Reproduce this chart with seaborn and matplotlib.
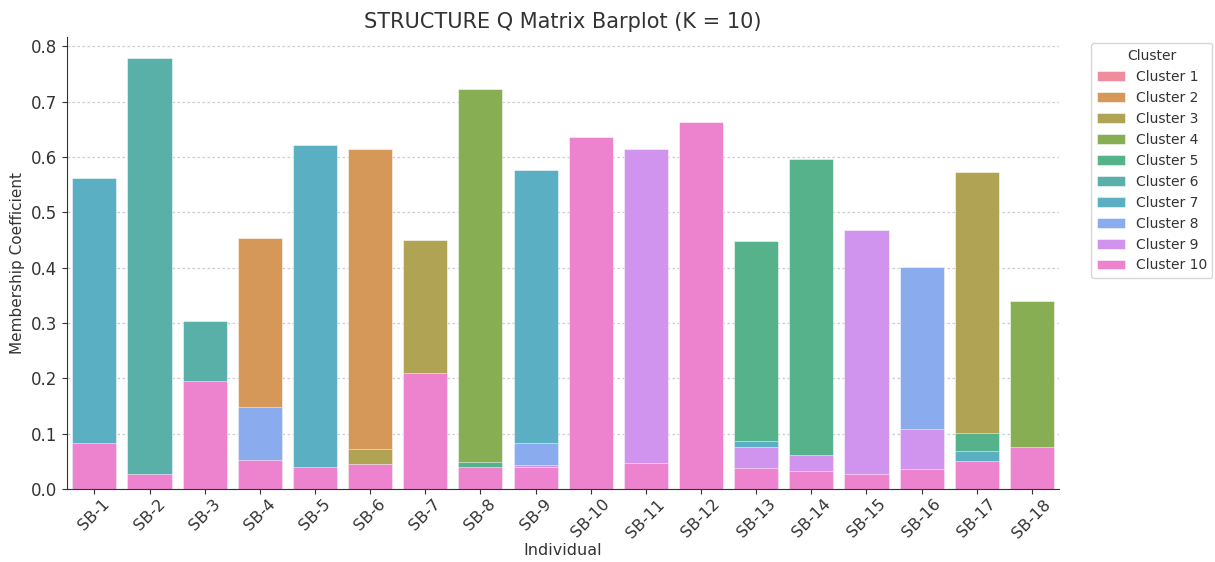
import matplotlib
matplotlib.use("Agg")
import matplotlib.pyplot as plt
import seaborn as sns
import pandas as pd

individuals = [f"SB-{i}" for i in range(1, 19)]
clusters = [f"Cluster {i}" for i in range(1, 11)]

# Membership coefficients per cluster (one value per individual)
cluster_1 = [0, 0, 0, 0, 0, 0, 0, 0, 0, 0, 0, 0, 0, 0, 0, 0, 0, 0]
cluster_2 = [0, 0, 0, 0.454, 0, 0.615, 0, 0, 0, 0, 0, 0, 0, 0, 0, 0, 0, 0]
cluster_3 = [0, 0, 0, 0, 0, 0.073, 0.450, 0, 0, 0, 0, 0, 0, 0, 0, 0, 0.573, 0]
cluster_4 = [0, 0, 0, 0, 0, 0, 0, 0.723, 0, 0, 0, 0, 0, 0, 0, 0, 0, 0.339]
cluster_5 = [0, 0, 0, 0, 0, 0, 0, 0.049, 0, 0, 0, 0, 0.449, 0.597, 0, 0, 0.101, 0]
cluster_6 = [0, 0.779, 0.303, 0, 0, 0, 0, 0, 0, 0, 0, 0, 0, 0, 0, 0, 0, 0]
cluster_7 = [0.562, 0, 0, 0, 0.622, 0, 0, 0, 0.577, 0, 0, 0, 0.086, 0, 0, 0, 0.069, 0]
cluster_8 = [0, 0, 0, 0.148, 0, 0, 0, 0, 0.083, 0, 0, 0, 0, 0, 0, 0.402, 0, 0]
cluster_9 = [0, 0, 0, 0, 0, 0, 0, 0, 0.044, 0, 0.615, 0, 0.076, 0.061, 0.468, 0.108, 0, 0]
cluster_10 = [0.083, 0.027, 0.195, 0.052, 0.039, 0.045, 0.209, 0.040, 0.040, 0.636,
              0.046, 0.663, 0.038, 0.033, 0.027, 0.036, 0.050, 0.075]

q_values = [cluster_1, cluster_2, cluster_3, cluster_4, cluster_5,
            cluster_6, cluster_7, cluster_8, cluster_9, cluster_10]

rows = []
for name, vals in zip(clusters, q_values):
    for ind, v in zip(individuals, vals):
        rows.append({"Individual": ind, "Cluster": name, "Membership Coefficient": v})
df = pd.DataFrame(rows)

# husl palette, slightly desaturated and softened toward white
base = sns.color_palette("husl", 10, desat=0.85)
palette = [tuple(0.87 * c + 0.13 for c in col) for col in base]

text_color = "#333333"
plt.rcParams.update({
    "text.color": text_color,
    "axes.labelcolor": text_color,
    "xtick.color": text_color,
    "ytick.color": text_color,
    "axes.edgecolor": text_color,
})

fig, ax = plt.subplots(figsize=(12.15, 5.62), dpi=100)
sns.barplot(data=df, x="Individual", y="Membership Coefficient", hue="Cluster",
            hue_order=clusters, order=individuals, dodge=False, saturation=1,
            palette=palette, edgecolor=(1, 1, 1, 0.6), linewidth=0.6, ax=ax)

ax.set_title("STRUCTURE Q Matrix Barplot (K = 10)", fontsize=15)
ax.set_xlabel("Individual", fontsize=11.5, labelpad=2)
ax.set_ylabel("Membership Coefficient", fontsize=11)
ax.tick_params(axis="x", labelrotation=45, labelsize=11.5, pad=2)
ax.tick_params(axis="y", labelsize=12)
ax.yaxis.grid(True, linestyle=(0, (2, 2)), color="#cccccc", linewidth=0.9)
ax.set_axisbelow(True)
for s in ["top", "right"]:
    ax.spines[s].set_visible(False)

ax.legend(title="Cluster", loc="upper left", bbox_to_anchor=(1.025, 1.0), fontsize=10)

fig.subplots_adjust(left=0.055, right=0.872, top=0.935, bottom=0.13)
fig.savefig("out.png", dpi=100)
